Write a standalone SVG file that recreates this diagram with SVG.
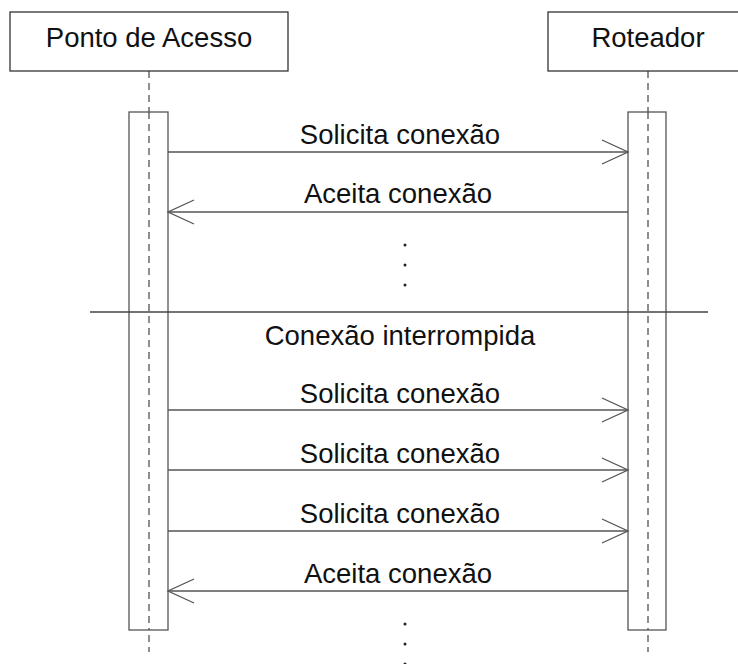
<svg xmlns="http://www.w3.org/2000/svg" width="738" height="664" viewBox="0 0 738 664">
<style>
.box{fill:#fff;stroke:#333;stroke-width:1.3}
.act{fill:#fff;stroke:#555;stroke-width:1.3}
.life{stroke:#444;stroke-width:1.2;stroke-dasharray:7 5;fill:none}
.msg{stroke:#555;stroke-width:1.3;fill:none}
.head{stroke:#555;stroke-width:1.3;fill:none}
.t{font-family:"Liberation Sans",Arial,sans-serif;font-size:27.5px;fill:#111;text-anchor:middle}
.dot{fill:#222}
</style>
<rect width="738" height="664" fill="#fff"/>
<g id="lifelines">
<line class="life" x1="149" y1="71" x2="149" y2="652"/>
<line class="life" x1="648" y1="71" x2="648" y2="652"/>
</g>
<g id="ponto-de-acesso">
<rect class="box" x="10" y="12" width="278" height="59"/>
<text class="t" x="149" y="47">Ponto de Acesso</text>
</g>
<g id="roteador">
<rect class="box" x="548" y="12" width="200" height="59"/>
<text class="t" x="648" y="47">Roteador</text>
</g>
<g id="activation-left">
<rect class="act" x="129" y="112" width="39" height="518"/>
</g>
<g id="activation-right">
<rect class="act" x="628" y="112" width="38" height="518"/>
</g>
<g id="lifelines-over">
<line class="life" x1="149" y1="112" x2="149" y2="630"/>
<line class="life" x1="648" y1="112" x2="648" y2="630"/>
</g>
<g id="connectors">
<line class="msg" x1="168" y1="152" x2="628" y2="152"/>
<polyline class="head" points="602,140 628,152 602,164"/>
<line class="msg" x1="628" y1="212" x2="168" y2="212"/>
<polyline class="head" points="194,200 168,212 194,224"/>
<line class="msg" x1="168" y1="410" x2="628" y2="410"/>
<polyline class="head" points="602,398 628,410 602,422"/>
<line class="msg" x1="168" y1="470" x2="628" y2="470"/>
<polyline class="head" points="602,458 628,470 602,482"/>
<line class="msg" x1="168" y1="531" x2="628" y2="531"/>
<polyline class="head" points="602,519 628,531 602,543"/>
<line class="msg" x1="628" y1="591" x2="168" y2="591"/>
<polyline class="head" points="194,579 168,591 194,603"/>
</g>
<g id="separator">
<line x1="90" y1="312" x2="708" y2="312" stroke="#444" stroke-width="1.3"/>
</g>
<g id="labels">
<text class="t" x="400" y="144">Solicita conexão</text>
<text class="t" x="398" y="203">Aceita conexão</text>
<text class="t" x="400" y="345">Conexão interrompida</text>
<text class="t" x="400" y="403">Solicita conexão</text>
<text class="t" x="400" y="463">Solicita conexão</text>
<text class="t" x="400" y="523">Solicita conexão</text>
<text class="t" x="398" y="583">Aceita conexão</text>
</g>
<g id="ellipsis">
<circle class="dot" cx="405" cy="245" r="1.5"/>
<circle class="dot" cx="405" cy="265" r="1.5"/>
<circle class="dot" cx="405" cy="285" r="1.5"/>
<circle class="dot" cx="405" cy="624" r="1.5"/>
<circle class="dot" cx="405" cy="644" r="1.5"/>
<circle class="dot" cx="405" cy="664" r="1.5"/>
</g>
</svg>
